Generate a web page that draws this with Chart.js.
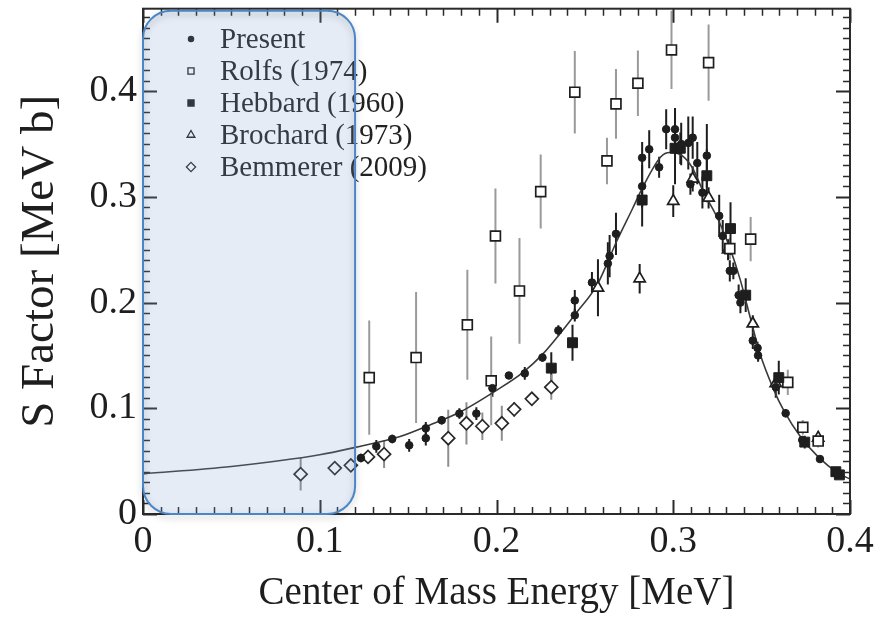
<!DOCTYPE html>
<html lang="en">
<head>
<meta charset="UTF-8" />
<title>S Factor vs Center of Mass Energy</title>
<script src="https://cdn.jsdelivr.net/npm/chart.js"></script>
<style>
  html, body { margin: 0; padding: 0; background: #fff; }
</style>
</head>
<body>
<canvas id="sfactor" width="889" height="625"></canvas>
<script>
// energies in MeV, S factor in MeV b, errors are symmetric half-widths
const fitE = [0, 0.05, 0.1, 0.12, 0.145, 0.162, 0.18, 0.2, 0.215, 0.226, 0.245, 0.257, 0.268, 0.277, 0.283,
  0.293, 0.298, 0.305, 0.311, 0.317, 0.325, 0.332, 0.338, 0.344, 0.349, 0.357, 0.3625, 0.372, 0.382, 0.393, 0.4];
const fitS = [0.038, 0.045, 0.056, 0.063, 0.073, 0.084, 0.097, 0.117, 0.134, 0.151, 0.19, 0.217, 0.258, 0.289, 0.31,
  0.338, 0.342, 0.339, 0.327, 0.305, 0.28, 0.252, 0.221, 0.183, 0.152, 0.117, 0.098, 0.073, 0.054, 0.039, 0.033];

const presentE = [0.1233, 0.132, 0.141, 0.1506, 0.16, 0.16, 0.169, 0.179, 0.1886, 0.1977, 0.207, 0.216, 0.226, 0.235,
  0.2443, 0.2443, 0.254, 0.263, 0.264, 0.2676, 0.2824, 0.2824, 0.2864, 0.292, 0.296, 0.301, 0.301, 0.3045, 0.3085,
  0.311, 0.3136, 0.319, 0.3097, 0.3165, 0.326, 0.328, 0.332, 0.334, 0.337, 0.338, 0.345, 0.3477, 0.348, 0.358,
  0.3636, 0.373, 0.383, 0.393];
const presentS = [0.053, 0.064, 0.071, 0.065, 0.0717, 0.081, 0.0887, 0.095, 0.095, 0.119, 0.131, 0.133, 0.148, 0.1736,
  0.188, 0.202, 0.219, 0.237, 0.244, 0.265, 0.31, 0.337, 0.345, 0.328, 0.364, 0.364, 0.356, 0.35, 0.351,
  0.356, 0.332, 0.339, 0.312, 0.304, 0.282, 0.263, 0.23, 0.23, 0.207, 0.2, 0.164, 0.157, 0.15, 0.12,
  0.0953, 0.07, 0.052, 0.039];
const presentErr = [0.004, 0.006, 0.004, 0.006, 0.007, 0.006, 0.004, 0.005, 0.006, 0.008, 0.003, 0.006, 0.004, 0.005,
  0.006, 0.01, 0.01, 0.02, 0.02, 0.02, 0.02, 0.015, 0.018, 0.01, 0.019, 0.02, 0.012, 0.02, 0.025,
  0.02, 0.02, 0.03, 0.01, 0.015, 0.02, 0.015, 0.01, 0.008, 0.01, 0.01, 0.008, 0.006, 0.006, 0.01,
  0.004, 0.003, 0.003, 0.002];

const rolfsE = [0.128, 0.1545, 0.1835, 0.197, 0.1994, 0.213, 0.225, 0.2443, 0.2625, 0.2676, 0.28, 0.299, 0.32,
  0.332, 0.3438, 0.3648, 0.3733, 0.382];
const rolfsS = [0.129, 0.148, 0.179, 0.126, 0.263, 0.211, 0.305, 0.399, 0.334, 0.388, 0.4075, 0.439, 0.427,
  0.251, 0.26, 0.1245, 0.082, 0.069];
const rolfsErr = [0.054, 0.062, 0.052, 0.042, 0.045, 0.05, 0.035, 0.039, 0.022, 0.033, 0.031, 0.037, 0.036,
  0.01, 0.021, 0.012, 0.007, 0.006];

const hebbardE = [0.231, 0.243, 0.2824, 0.301, 0.304, 0.319, 0.3324, 0.341, 0.3597, 0.3744, 0.392, 0.394];
const hebbardS = [0.138, 0.162, 0.297, 0.346, 0.346, 0.32, 0.27, 0.207, 0.129, 0.068, 0.04, 0.037];
const hebbardErr = [0.015, 0.017, 0.025, 0.034, 0.015, 0.025, 0.025, 0.016, 0.016, 0.006, 0.003, 0.003];

const brochardE = [0.2574, 0.281, 0.3, 0.311, 0.32, 0.331, 0.345, 0.358, 0.382];
const brochardS = [0.214, 0.2226, 0.296, 0.317, 0.299, 0.25, 0.18, 0.1236, 0.072];
const brochardErr = [0.027, 0.014, 0.015, 0.012, 0.01, 0.01, 0.008, 0.007, 0.006];

const bemmererE = [0.0892, 0.1085, 0.1176, 0.1273, 0.1364, 0.1727, 0.183, 0.192, 0.203, 0.21, 0.22, 0.231];
const bemmererS = [0.0377, 0.0434, 0.046, 0.054, 0.0566, 0.0717, 0.0858, 0.083, 0.0858, 0.099, 0.109, 0.12];
const bemmererErr = [0.0155, 0.005, 0.005, 0.005, 0.013, 0.027, 0.02, 0.013, 0.0165, 0.007, 0.006, 0.012];

const xTicks = [0, 0.1, 0.2, 0.3, 0.4];
const yTicks = [0, 0.1, 0.2, 0.3, 0.4];

const pts = (xs, ys) => xs.map((x, i) => ({ x, y: ys[i] }));
const serif = 'Liberation Serif, Times New Roman, serif';
const ink = '#1e1e1e';

// vertical error bars, drawn under the markers
const errorBars = {
  id: 'errorBars',
  beforeDatasetsDraw(chart) {
    const { ctx, chartArea, scales: { x, y } } = chart;
    ctx.save();
    ctx.beginPath();
    ctx.rect(chartArea.left, chartArea.top, chartArea.right - chartArea.left, chartArea.bottom - chartArea.top);
    ctx.clip();
    chart.data.datasets.forEach(ds => {
      if (!ds.errs) return;
      ctx.strokeStyle = ds.errColor;
      ctx.lineWidth = 2;
      ds.data.forEach((p, i) => {
        const px = x.getPixelForValue(p.x);
        ctx.beginPath();
        ctx.moveTo(px, y.getPixelForValue(p.y - ds.errs[i]));
        ctx.lineTo(px, y.getPixelForValue(p.y + ds.errs[i]));
        ctx.stroke();
      });
    });
    ctx.restore();
  }
};

// closed frame with inward major/minor ticks on all four sides
const frame = {
  id: 'frame',
  afterDatasetsDraw(chart) {
    const { ctx, chartArea: a, scales: { x, y } } = chart;
    ctx.save();
    ctx.strokeStyle = '#2a2a2a';
    ctx.lineWidth = 2;
    ctx.strokeRect(a.left, a.top, a.right - a.left, a.bottom - a.top);
    for (let i = 0; i <= 40; i++) {
      const px = Math.round(x.getPixelForValue(i / 100)) + 0.5;
      const len = i % 10 === 0 ? 14 : 7;
      ctx.lineWidth = i % 10 === 0 ? 2 : 1.5;
      ctx.beginPath();
      ctx.moveTo(px, a.bottom); ctx.lineTo(px, a.bottom - len);
      ctx.moveTo(px, a.top); ctx.lineTo(px, a.top + len);
      ctx.stroke();
    }
    for (let i = 0; i / 100 <= y.max; i++) {
      const py = Math.round(y.getPixelForValue(i / 100)) + 0.5;
      const len = i % 10 === 0 ? 14 : 7;
      ctx.lineWidth = i % 10 === 0 ? 2 : 1.5;
      ctx.beginPath();
      ctx.moveTo(a.left, py); ctx.lineTo(a.left + len, py);
      ctx.moveTo(a.right, py); ctx.lineTo(a.right - len, py);
      ctx.stroke();
    }
    ctx.restore();
  }
};

// legend block in the upper left of the plot
const insetLegend = {
  id: 'insetLegend',
  afterDatasetsDraw(chart) {
    const { ctx } = chart;
    ctx.save();
    ctx.font = '29px ' + serif;
    ctx.textBaseline = 'middle';
    chart.data.datasets.filter(ds => ds.inLegend).forEach((ds, i) => {
      const cy = 39 + i * 32;
      ctx.fillStyle = ds.backgroundColor;
      ctx.strokeStyle = ds.borderColor;
      ctx.lineWidth = 1.3;
      Chart.helpers.drawPoint(ctx, {
        pointStyle: ds.pointStyle, radius: ds.legendRadius, rotation: 0, borderWidth: 1.3
      }, 191, cy);
      ctx.fillStyle = '#222';
      ctx.fillText(ds.label, 220, cy + 1);
    });
    ctx.restore();
  }
};

// translucent rounded highlight over the low-energy region
const highlight = {
  id: 'highlight',
  afterDraw(chart) {
    const { ctx, chartArea: a, scales: { x } } = chart;
    const left = a.left;
    const right = x.getPixelForValue(0.12);
    const top = a.top + 2;
    const bottom = a.bottom;
    ctx.save();
    ctx.beginPath();
    ctx.roundRect(left, top, right - left, bottom - top, 28);
    ctx.fillStyle = 'rgba(125, 160, 205, 0.2)';
    ctx.fill();
    // soft shadow only along the outline
    ctx.shadowColor = 'rgba(0,0,0,0.28)';
    ctx.shadowBlur = 7;
    ctx.shadowOffsetY = 3;
    ctx.strokeStyle = '#4a86c8';
    ctx.lineWidth = 2;
    ctx.stroke();
    ctx.restore();
  }
};

new Chart(document.getElementById('sfactor').getContext('2d'), {
  type: 'scatter',
  data: {
    datasets: [
      {
        label: 'Present', inLegend: true, data: pts(presentE, presentS), errs: presentErr, errColor: ink,
        pointStyle: 'circle', pointRadius: 3.8, legendRadius: 2.6,
        backgroundColor: ink, borderColor: ink, borderWidth: 1, order: 1
      },
      {
        label: 'Rolfs (1974)', inLegend: true, data: pts(rolfsE, rolfsS), errs: rolfsErr, errColor: '#9a9a9a',
        pointStyle: 'rect', pointRadius: 7, legendRadius: 4.3,
        backgroundColor: '#fff', borderColor: ink, borderWidth: 1.7, order: 3
      },
      {
        label: 'Hebbard (1960)', inLegend: true, data: pts(hebbardE, hebbardS), errs: hebbardErr, errColor: ink,
        pointStyle: 'rect', pointRadius: 7, legendRadius: 4.3,
        backgroundColor: ink, borderColor: ink, borderWidth: 1, order: 2
      },
      {
        label: 'Brochard (1973)', inLegend: true, data: pts(brochardE, brochardS), errs: brochardErr, errColor: ink,
        pointStyle: 'triangle', pointRadius: 6.5, legendRadius: 4.5,
        backgroundColor: '#fff', borderColor: ink, borderWidth: 1.7, order: 4
      },
      {
        label: 'Bemmerer (2009)', inLegend: true, data: pts(bemmererE, bemmererS), errs: bemmererErr, errColor: '#8e8e8e',
        pointStyle: 'rectRot', pointRadius: 6.5, legendRadius: 4.6,
        backgroundColor: '#fff', borderColor: '#2a2a2a', borderWidth: 1.7, order: 5
      },
      {
        label: 'R-matrix fit', data: pts(fitE, fitS), showLine: true, pointRadius: 0,
        borderColor: '#3a3a3a', borderWidth: 1.6, cubicInterpolationMode: 'monotone', order: 6
      }
    ]
  },
  options: {
    responsive: false,
    animation: false,
    devicePixelRatio: 1,
    layout: { padding: { top: 7, right: 39, left: 0, bottom: 0 } },
    plugins: { legend: { display: false }, tooltip: { enabled: false } },
    scales: {
      x: {
        type: 'linear', min: 0, max: 0.4,
        afterFit: s => { s.height = 111; s.paddingLeft = 0; s.paddingRight = 0; },
        afterBuildTicks: s => { s.ticks = xTicks.map(v => ({ value: v })); },
        grid: { display: false, drawTicks: false },
        border: { display: false },
        ticks: {
          padding: 5, color: ink, autoSkip: false, maxRotation: 0,
          font: { family: serif, size: 38 },
          callback: v => (v === 0 ? '0' : v.toFixed(1))
        },
        title: {
          display: true, text: 'Center of Mass Energy [MeV]', color: ink,
          font: { family: serif, size: 39 }, padding: { top: 0, bottom: 8 }
        }
      },
      y: {
        type: 'linear', min: 0, max: 0.478,
        afterFit: s => { s.width = 143; s.paddingTop = 0; s.paddingBottom = 0; },
        afterBuildTicks: s => { s.ticks = yTicks.map(v => ({ value: v })); },
        grid: { display: false, drawTicks: false },
        border: { display: false },
        ticks: {
          padding: 6, color: ink, autoSkip: false,
          font: { family: serif, size: 38 },
          callback: v => (v === 0 ? '0' : v.toFixed(1))
        },
        title: {
          display: true, text: 'S Factor [MeV b]', color: ink,
          font: { family: serif, size: 47 }, padding: { top: 12, bottom: 0 }
        }
      }
    }
  },
  plugins: [errorBars, frame, insetLegend, highlight]
});
</script>
</body>
</html>
